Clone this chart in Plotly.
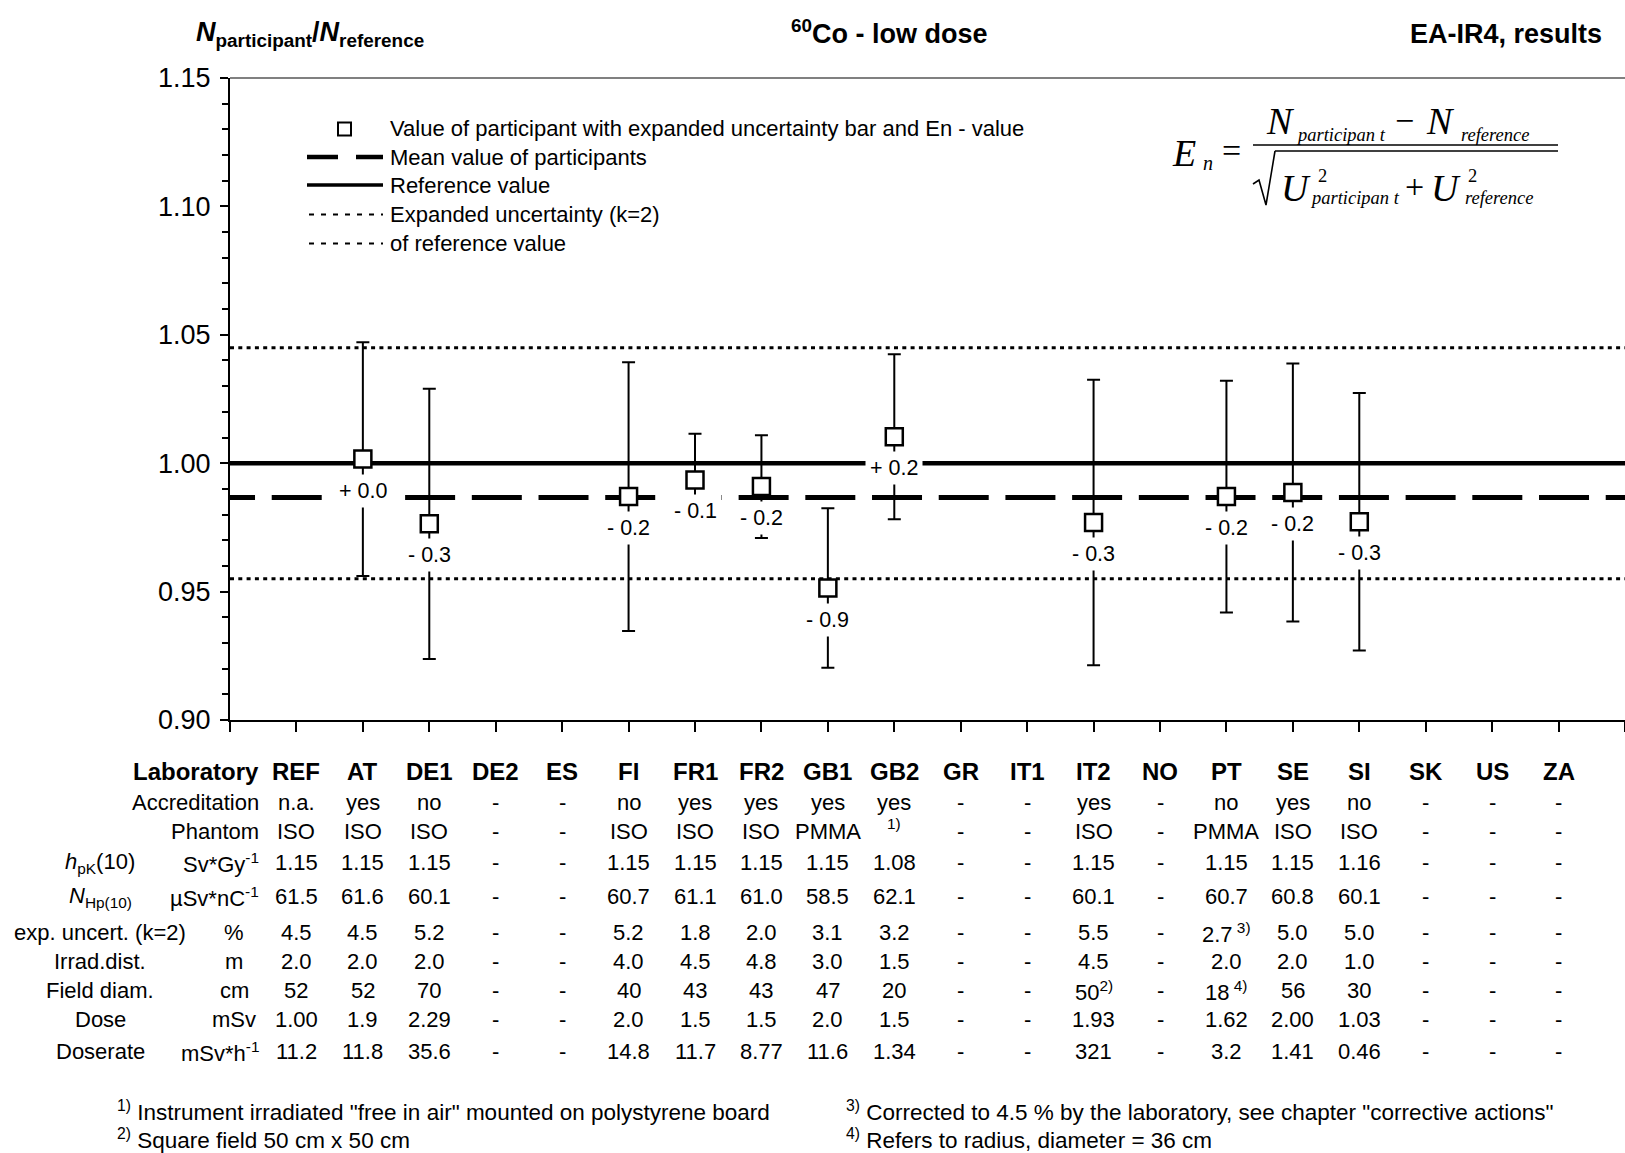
import plotly.graph_objects as go

# ---------------- data ----------------
labs = ["REF", "AT", "DE1", "DE2", "ES", "FI", "FR1", "FR2", "GB1", "GB2",
        "GR", "IT1", "IT2", "NO", "PT", "SE", "SI", "SK", "US", "ZA"]

point_labs = ["AT", "DE1", "FI", "FR1", "FR2", "GB1", "GB2", "IT2", "PT", "SE", "SI"]
ratio = [1.0016, 0.9764, 0.9870, 0.9935, 0.9909, 0.9514, 1.0103, 0.9769, 0.9870, 0.9886, 0.9772]
unc_bar = [0.0455, 0.0526, 0.0523, 0.0180, 0.0200, 0.0311, 0.0321, 0.0556, 0.0451, 0.0502, 0.0501]
en_labels = ["+ 0.0", "- 0.3", "- 0.2", "- 0.1", "- 0.2", "- 0.9", "+ 0.2", "- 0.3", "- 0.2", "- 0.2", "- 0.3"]

ref_value = 1.00
mean_value = 0.9866
ref_unc = 0.045
y_ticks = [0.90, 0.95, 1.00, 1.05, 1.10, 1.15]

accreditation = ["n.a.", "yes", "no", "-", "-", "no", "yes", "yes", "yes", "yes",
                 "-", "-", "yes", "-", "no", "yes", "no", "-", "-", "-"]
phantom = ["ISO", "ISO", "ISO", "-", "-", "ISO", "ISO", "ISO", "PMMA", "<sup>1)</sup>",
           "-", "-", "ISO", "-", "PMMA", "ISO", "ISO", "-", "-", "-"]
hpk10 = ["1.15", "1.15", "1.15", "-", "-", "1.15", "1.15", "1.15", "1.15", "1.08",
         "-", "-", "1.15", "-", "1.15", "1.15", "1.16", "-", "-", "-"]
n_hp10 = ["61.5", "61.6", "60.1", "-", "-", "60.7", "61.1", "61.0", "58.5", "62.1",
          "-", "-", "60.1", "-", "60.7", "60.8", "60.1", "-", "-", "-"]
exp_unc = ["4.5", "4.5", "5.2", "-", "-", "5.2", "1.8", "2.0", "3.1", "3.2",
           "-", "-", "5.5", "-", "2.7<sup> 3)</sup>", "5.0", "5.0", "-", "-", "-"]
irrad_dist = ["2.0", "2.0", "2.0", "-", "-", "4.0", "4.5", "4.8", "3.0", "1.5",
              "-", "-", "4.5", "-", "2.0", "2.0", "1.0", "-", "-", "-"]
field_diam = ["52", "52", "70", "-", "-", "40", "43", "43", "47", "20",
              "-", "-", "50<sup>2)</sup>", "-", "18<sup> 4)</sup>", "56", "30", "-", "-", "-"]
dose = ["1.00", "1.9", "2.29", "-", "-", "2.0", "1.5", "1.5", "2.0", "1.5",
        "-", "-", "1.93", "-", "1.62", "2.00", "1.03", "-", "-", "-"]
doserate = ["11.2", "11.8", "35.6", "-", "-", "14.8", "11.7", "8.77", "11.6", "1.34",
            "-", "-", "321", "-", "3.2", "1.41", "0.46", "-", "-", "-"]

row_labels = ["<b>Laboratory</b>", "Accreditation", "Phantom",
              "<i>h</i><sub>pK</sub>(10)", "<i>N</i><sub>Hp(10)</sub>", "exp. uncert. (k=2)",
              "Irrad.dist.", "Field diam.", "Dose", "Doserate"]
row_units = ["", "", "", "Sv*Gy<sup>-1</sup>", "µSv*nC<sup>-1</sup>", "%", "m", "cm", "mSv", "mSv*h<sup>-1</sup>"]

footnotes_left = ["<sup>1)</sup> Instrument irradiated \"free in air\" mounted on polystyrene board",
                  "<sup>2)</sup> Square field 50 cm x 50 cm"]
footnotes_right = ["<sup>3)</sup> Corrected to 4.5 % by the laboratory, see chapter \"corrective actions\"",
                   "<sup>4)</sup> Refers to radius, diameter = 36 cm"]

legend_texts = ["Value of participant with expanded uncertainty bar and En - value",
                "Mean value of participants", "Reference value",
                "Expanded uncertainty (k=2)", "of reference value"]

# ---------------- geometry helpers ----------------
W, H = 1625, 1153
L, R, T, B = 230, 0, 78, 433
PW = W - L - R
PH = H - T - B
FONT = "Liberation Sans, Arial, sans-serif"
SERIF = "Liberation Serif, Times New Roman, serif"


def px_x(X):
    return (X - L) / PW


def px_y(Y):
    return (H - B - Y) / PH


x_idx = {lab: i for i, lab in enumerate(labs)}
px = [x_idx[l] for l in point_labs]
x_lo, x_hi = -1, len(labs)

fig = go.Figure()

# reference value line
fig.add_trace(go.Scatter(x=[x_lo, x_hi], y=[ref_value, ref_value], mode="lines",
                         line=dict(color="black", width=4.5), hoverinfo="skip"))
# mean value line (dashed)
fig.add_trace(go.Scatter(x=[x_lo - 0.376, x_hi], y=[mean_value, mean_value], mode="lines",
                         line=dict(color="black", width=5, dash="50px,16.7px"), hoverinfo="skip"))
# expanded uncertainty of reference value
for sgn in (1, -1):
    yv = ref_value + sgn * ref_unc
    fig.add_trace(go.Scatter(x=[x_lo, x_hi], y=[yv, yv], mode="lines",
                             line=dict(color="black", width=3, dash="4px,4.3px"), hoverinfo="skip"))

# participants
fig.add_trace(go.Scatter(
    x=px, y=ratio, mode="markers",
    marker=dict(symbol="square", size=17, color="white", line=dict(color="black", width=2.5)),
    error_y=dict(type="data", array=unc_bar, visible=True, color="black", thickness=2, width=6.5),
    hoverinfo="skip"))

annotations = []

# En labels
for xi, yv, t in zip(px, ratio, en_labels):
    annotations.append(dict(x=xi, y=yv, xref="x", yref="y", text=t, showarrow=False,
                            yshift=-31.6, font=dict(size=21.5, family=FONT, color="black"),
                            bgcolor="white", borderpad=4, xanchor="center", yanchor="middle"))

# table
row_y = [771.7, 802.3, 831.7, 862.7, 896.7, 932.7, 961.0, 990.7, 1019.3, 1051.7]
rows = [["<b>%s</b>" % l for l in labs], accreditation, phantom, hpk10, n_hp10, exp_unc,
        irrad_dist, field_diam, dose, doserate]
for k, (ry, row) in enumerate(zip(row_y, rows)):
    for i, txt in enumerate(row):
        annotations.append(dict(x=i, y=px_y(ry), xref="x", yref="paper", text=txt, showarrow=False,
                                yshift=8 if txt.startswith("<sup>") else 0,
                                font=dict(size=24 if k == 0 else 22, family=FONT, color="black"),
                                xanchor="center", yanchor="middle"))

for k, (ry, lab, unit) in enumerate(zip(row_y, row_labels, row_units)):
    if k < 3:
        annotations.append(dict(x=px_x(261), y=px_y(ry), xref="paper", yref="paper", text=lab,
                                showarrow=False, font=dict(size=24 if k == 0 else 22, family=FONT, color="black"),
                                xanchor="right", yanchor="middle"))
    else:
        annotations.append(dict(x=px_x(100), y=px_y(ry), xref="paper", yref="paper", text=lab,
                                showarrow=False, font=dict(size=22, family=FONT, color="black"),
                                xanchor="center", yanchor="middle"))
        if "<sup>" in unit:
            annotations.append(dict(x=px_x(261), y=px_y(ry), xref="paper", yref="paper", text=unit,
                                    showarrow=False, font=dict(size=22, family=FONT, color="black"),
                                    xanchor="right", yanchor="middle"))
        else:
            annotations.append(dict(x=px_x(234), y=px_y(ry), xref="paper", yref="paper", text=unit,
                                    showarrow=False, font=dict(size=22, family=FONT, color="black"),
                                    xanchor="center", yanchor="middle"))

# footnotes
for fy, t in zip([1111, 1139], footnotes_left):
    annotations.append(dict(x=px_x(115), y=px_y(fy), xref="paper", yref="paper", text=t,
                            showarrow=False, font=dict(size=22.5, family=FONT, color="black"),
                            xanchor="left", yanchor="middle"))
for fy, t in zip([1111, 1139], footnotes_right):
    annotations.append(dict(x=px_x(844), y=px_y(fy), xref="paper", yref="paper", text=t,
                            showarrow=False, font=dict(size=22.5, family=FONT, color="black"),
                            xanchor="left", yanchor="middle"))

# titles
annotations.append(dict(x=px_x(194), y=px_y(34), xref="paper", yref="paper",
                        text="<b><i>N</i><sub>participant</sub>/<i>N</i><sub>reference</sub></b>",
                        showarrow=False, font=dict(size=27, family=FONT, color="black"),
                        xanchor="left", yanchor="middle"))
annotations.append(dict(x=px_x(889), y=px_y(32), xref="paper", yref="paper",
                        text="<b><sup>60</sup>Co - low dose</b>",
                        showarrow=False, font=dict(size=27, family=FONT, color="black"),
                        xanchor="center", yanchor="middle"))
annotations.append(dict(x=px_x(1604), y=px_y(34), xref="paper", yref="paper",
                        text="<b>EA-IR4, results</b>",
                        showarrow=False, font=dict(size=27, family=FONT, color="black"),
                        xanchor="right", yanchor="middle"))

# legend texts
legend_y = [129.0, 157.5, 185.5, 214.5, 243.5]
for ly, t in zip(legend_y, legend_texts):
    annotations.append(dict(x=px_x(388), y=px_y(ly), xref="paper", yref="paper", text=t,
                            showarrow=False, font=dict(size=22, family=FONT, color="black"),
                            xanchor="left", yanchor="middle"))


# equation pieces
def eq(text, X, Y, size, anchor="left"):
    annotations.append(dict(x=px_x(X), y=px_y(Y), xref="paper", yref="paper", text=text,
                            showarrow=False, font=dict(size=size, family=SERIF, color="black"),
                            xanchor=anchor, yanchor="middle"))


eq("<i>E</i>", 1170, 153, 38)
eq("<i>n</i>", 1201, 163, 20)
eq("=", 1231, 151, 34, "center")
eq("<i>N</i>", 1264, 121, 38)
eq("<i>participan t</i>", 1294, 135, 18.5)
eq("\u2212", 1404, 120, 34, "center")
eq("<i>N</i>", 1424, 121, 38)
eq("<i>reference</i>", 1459, 135, 18.5)
eq("<i>U</i>", 1279, 188, 38)
eq("2", 1316, 176, 18.5)
eq("<i>participan t</i>", 1308, 198, 18.5)
eq("+", 1414, 187, 34, "center")
eq("<i>U</i>", 1429, 188, 38)
eq("2", 1466, 176, 18.5)
eq("<i>reference</i>", 1463, 198, 18.5)

shapes = []
# top border of plot area
shapes.append(dict(type="line", xref="paper", yref="paper", x0=0, x1=1, y0=1, y1=1,
                   line=dict(color="#808080", width=2)))
# equation lines
shapes.append(dict(type="line", xref="paper", yref="paper", x0=px_x(1253), x1=px_x(1558),
                   y0=px_y(145), y1=px_y(145), line=dict(color="black", width=1.5)))
shapes.append(dict(type="line", xref="paper", yref="paper", x0=px_x(1275), x1=px_x(1558),
                   y0=px_y(151), y1=px_y(151), line=dict(color="black", width=1.5)))
sq = [(1253, 184), (1259, 180), (1266, 205), (1275, 151)]
path = "M " + " L ".join("%f,%f" % (px_x(a), px_y(b)) for a, b in sq)
shapes.append(dict(type="path", xref="paper", yref="paper", path=path,
                   line=dict(color="black", width=1.6)))

# legend symbols
shapes.append(dict(type="rect", xref="paper", yref="paper", x0=px_x(338), x1=px_x(351),
                   y0=px_y(135.5), y1=px_y(122.5), line=dict(color="black", width=2), fillcolor="white"))
shapes.append(dict(type="line", xref="paper", yref="paper", x0=px_x(307), x1=px_x(338),
                   y0=px_y(157), y1=px_y(157), line=dict(color="black", width=4.5)))
shapes.append(dict(type="line", xref="paper", yref="paper", x0=px_x(356), x1=px_x(383),
                   y0=px_y(157), y1=px_y(157), line=dict(color="black", width=4.5)))
shapes.append(dict(type="line", xref="paper", yref="paper", x0=px_x(307), x1=px_x(383),
                   y0=px_y(185), y1=px_y(185), line=dict(color="black", width=3.5)))
for ly in (214.5, 243.5):
    shapes.append(dict(type="line", xref="paper", yref="paper", x0=px_x(309), x1=px_x(383),
                       y0=px_y(ly), y1=px_y(ly), line=dict(color="black", width=2.2, dash="5px,7px")))

fig.update_layout(
    width=W, height=H,
    margin=dict(l=L, r=R, t=T, b=B, pad=0),
    plot_bgcolor="white", paper_bgcolor="white",
    showlegend=False,
    font=dict(family=FONT, color="black"),
    annotations=annotations,
    shapes=shapes,
    xaxis=dict(range=[x_lo, x_hi], tickvals=list(range(x_lo, x_hi + 1)), showticklabels=False,
               ticks="outside", ticklen=10, tickwidth=2, tickcolor="black",
               showline=True, linecolor="black", linewidth=2, showgrid=False, zeroline=False),
    yaxis=dict(range=[y_ticks[0], y_ticks[-1]], tickvals=y_ticks, tickformat=".2f",
               ticks="outside", ticklen=8, tickwidth=2, tickcolor="black",
               tickfont=dict(size=27, family=FONT, color="black"), ticklabelstandoff=4,
               minor=dict(dtick=0.01, ticks="outside", ticklen=6, tickwidth=2, tickcolor="black", showgrid=False),
               showline=True, linecolor="black", linewidth=2, showgrid=False, zeroline=False),
)

fig.write_html("out.html", include_plotlyjs=True, config={"displayModeBar": False},
               post_script="document.body.style.margin='0';document.body.style.overflow='hidden';")
